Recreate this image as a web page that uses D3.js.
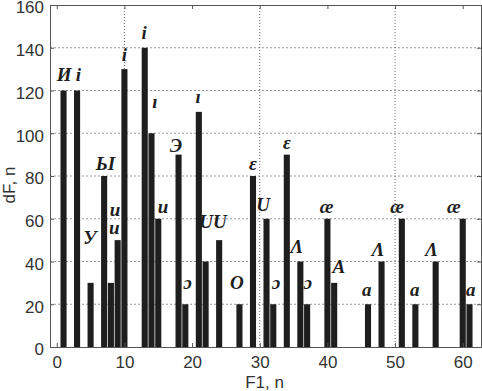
<!DOCTYPE html>
<html>
<head>
<meta charset="utf-8">
<script src="https://cdn.jsdelivr.net/npm/d3@7"></script>
<style>
  body { margin: 0; background: #fff; }
  svg { display: block; }
</style>
</head>
<body>
<svg id="chart" width="482" height="391"></svg>
<script>
// bar positions (F1, n) and heights (dF, n)
const barX = [1, 3, 5, 7, 8, 9, 10, 13, 14, 15, 18, 19, 21, 22, 24, 27, 29, 31, 32, 34, 36, 37, 40, 41, 46, 48, 51, 53, 56, 60, 61];
const barY = [120, 120, 30, 80, 30, 50, 130, 140, 100, 60, 90, 20, 110, 40, 50, 20, 80, 60, 20, 90, 40, 20, 60, 30, 20, 40, 60, 20, 40, 60, 20];

// vowel labels, anchored in data units
const labelText = ["И", "i", "У", "ЬI", "u", "u", "i", "i", "ı", "u", "Э", "ı", "ɔ", "UU", "O", "ε", "U", "ɔ", "ε", "Λ", "ɔ", "æ", "A", "a", "Λ", "æ", "a", "Λ", "æ", "a"];
const labelX = [1.1, 3.2, 4.9, 7.2, 8.6, 8.5, 10, 12.9, 14.5, 15.7, 17.6, 20.9, 19.3, 23.1, 26.6, 29, 30.5, 32.4, 34, 35.5, 37.1, 39.9, 41.7, 45.8, 47.5, 50.3, 52.9, 55.4, 58.7, 61.2];
const labelY = [127.5, 127.5, 51, 86, 64.5, 56, 137, 147, 115, 65.5, 94.5, 117, 30, 58.5, 30, 86, 66.5, 30, 95.5, 47, 30, 65.5, 37.5, 26.7, 45.4, 65.5, 26.7, 45.4, 65.5, 26.7];

const xTicks = [0, 10, 20, 30, 40, 50, 60];
const yTicks = [0, 20, 40, 60, 80, 100, 120, 140, 160];
const xGrid = [10, 30, 50];

const svg = d3.select("#chart");
const mLeft = 50, mRight = 481, mTop = 5, mBottom = 347;

const x = d3.scaleLinear().domain([-1, 62.7]).range([mLeft, mRight]);
const y = d3.scaleLinear().domain([0, 160]).range([mBottom, mTop]);

// grid
svg.append("g")
  .selectAll("line")
  .data(yTicks.filter(d => d > 0 && d < 160))
  .join("line")
  .attr("x1", mLeft).attr("x2", mRight)
  .attr("y1", d => y(d)).attr("y2", d => y(d))
  .attr("stroke", "#999")
  .attr("stroke-width", 1)
  .attr("stroke-dasharray", "2,2");

svg.append("g")
  .selectAll("line")
  .data(xGrid)
  .join("line")
  .attr("x1", d => x(d)).attr("x2", d => x(d))
  .attr("y1", mTop).attr("y2", mBottom)
  .attr("stroke", "#666")
  .attr("stroke-width", 1)
  .attr("stroke-dasharray", "1,2");

// bars
const bw = x(0.9) - x(0);
svg.append("g")
  .selectAll("rect")
  .data(barX.map((d, i) => ({ x: d, y: barY[i] })))
  .join("rect")
  .attr("x", d => x(d.x) - bw / 2)
  .attr("y", d => y(d.y))
  .attr("width", bw)
  .attr("height", d => y(0) - y(d.y))
  .attr("fill", "#1e1e1e");

// axes (ticks inward, box)
const axisColor = "#555";
const xAxis = svg.append("g")
  .attr("transform", `translate(0,${mBottom})`)
  .call(d3.axisBottom(x).tickValues(xTicks).tickSize(-4).tickPadding(9));
const xAxisTop = svg.append("g")
  .attr("transform", `translate(0,${mTop})`)
  .call(d3.axisTop(x).tickValues(xTicks).tickSize(-4).tickFormat(""));
const yAxis = svg.append("g")
  .attr("transform", `translate(${mLeft},0)`)
  .call(d3.axisLeft(y).tickValues(yTicks).tickSize(-4).tickPadding(6));
const yAxisRight = svg.append("g")
  .attr("transform", `translate(${mRight},0)`)
  .call(d3.axisRight(y).tickValues(yTicks).tickSize(-4).tickFormat(""));

[xAxis, xAxisTop, yAxis, yAxisRight].forEach(g => {
  g.select(".domain").attr("stroke", axisColor);
  g.selectAll(".tick line").attr("stroke", axisColor);
  g.selectAll(".tick text")
    .attr("fill", "#333")
    .style("font-family", "'Liberation Sans', Arial, sans-serif")
    .style("font-size", "17px");
});
yAxis.selectAll(".tick text").attr("dy", "0.46em");

// axis titles
svg.append("text")
  .attr("x", (mLeft + mRight) / 2 - 1)
  .attr("y", 388)
  .attr("text-anchor", "middle")
  .attr("fill", "#333")
  .style("font-family", "'Liberation Sans', Arial, sans-serif")
  .style("font-size", "17px")
  .text("F1, n");

svg.append("text")
  .attr("transform", `translate(15,${(mTop + mBottom) / 2 + 9}) rotate(-90)`)
  .attr("text-anchor", "middle")
  .attr("fill", "#333")
  .style("font-family", "'Liberation Sans', Arial, sans-serif")
  .style("font-size", "17px")
  .text("dF, n");

// vowel labels
svg.append("g")
  .selectAll("text")
  .data(labelText.map((t, i) => ({ t, x: labelX[i], y: labelY[i] })))
  .join("text")
  .attr("x", d => x(d.x))
  .attr("y", d => y(d.y))
  .attr("text-anchor", "middle")
  .attr("dominant-baseline", "central")
  .attr("fill", "#1e1e1e")
  .style("font-family", "'Liberation Serif', 'DejaVu Serif', serif")
  .style("font-style", "italic")
  .style("font-weight", "bold")
  .style("font-size", "19px")
  .text(d => d.t);
</script>
</body>
</html>
